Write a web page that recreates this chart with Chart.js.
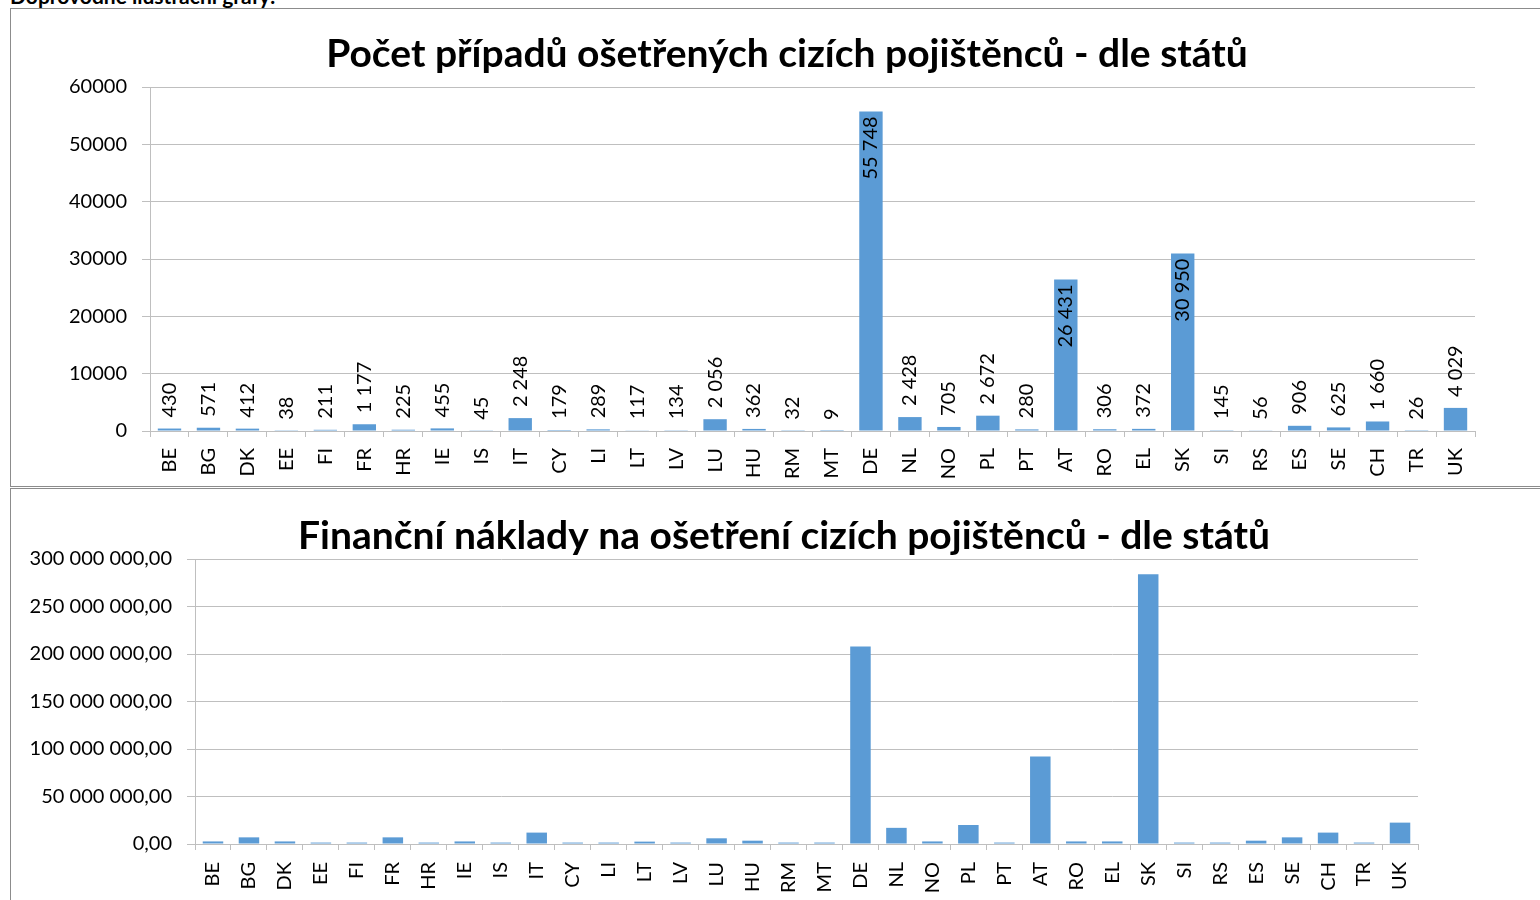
<!DOCTYPE html>
<html>
<head>
<meta charset="utf-8">
<script src="https://cdn.jsdelivr.net/npm/chart.js@4.4.1/dist/chart.umd.min.js"></script>
<style>
body { margin:0; background:#fff; overflow:hidden; width:1540px; height:900px; position:relative; font-family:Lato, "Open Sans", sans-serif; }
#head { position:absolute; left:10px; top:-17px; font-weight:bold; font-size:21px; color:#000; }
.frame { position:absolute; left:10px; width:1540px; border:1px solid #8c8c8c; background:#fff; }
#f1 { top:8px; height:477px; }
#f2 { top:488px; height:420px; }
canvas { display:block; }
</style>
</head>
<body>
<div id="head">Doprovodné ilustrační grafy:</div>
<div class="frame" id="f1"><canvas id="c1" width="1540" height="477"></canvas></div>
<div class="frame" id="f2"><canvas id="c2" width="1540" height="412"></canvas></div>
<script>
var countries = ['BE','BG','DK','EE','FI','FR','HR','IE','IS','IT','CY','LI','LT','LV','LU','HU','RM','MT','DE','NL','NO','PL','PT','AT','RO','EL','SK','SI','RS','ES','SE','CH','TR','UK'];
var cases = [430,571,412,38,211,1177,225,455,45,2248,179,289,117,134,2056,362,32,9,55748,2428,705,2672,280,26431,306,372,30950,145,56,906,625,1660,26,4029];
var insideLabels = ['DE','AT','SK'];
var costs = [2700000,7000000,2700000,1500000,1500000,7000000,1500000,2700000,1500000,12000000,1500000,1500000,2500000,1500000,6000000,3500000,1500000,1500000,208000000,17000000,2700000,20000000,1500000,92000000,2700000,2700000,284000000,1500000,1500000,3500000,7000000,12000000,1500000,22500000];
var title1 = 'Počet případů ošetřených cizích pojištěnců - dle států';
var title2 = 'Finanční náklady na ošetření cizích pojištěnců - dle států';

var barColor = '#5b9bd5';
var gridColor = '#bfbfbf';
var fontFam = 'Lato, "Open Sans", sans-serif';

function spaced(n) {
  return String(n).replace(/\B(?=(\d{3})+(?!\d))/g, ' ');
}
function money(v) {
  var parts = v.toFixed(2).split('.');
  return spaced(parts[0]) + ',' + parts[1];
}

// chart title drawn at a fixed centre (the excel frame is wider than the page)
var chartTitle = {
  id: 'chartTitle',
  afterDraw: function(chart, args, opts) {
    var ctx = chart.ctx;
    ctx.save();
    ctx.font = 'bold 39px ' + fontFam;
    ctx.fillStyle = '#000';
    ctx.textAlign = 'center';
    ctx.textBaseline = 'middle';
    ctx.fillText(opts.text, opts.x, opts.y);
    ctx.restore();
  }
};

// draws the rotated value labels of the first chart
var valueLabels = {
  id: 'valueLabels',
  afterDatasetsDraw: function(chart, args, opts) {
    if (!opts.show) return;
    var ctx = chart.ctx;
    var meta = chart.getDatasetMeta(0);
    ctx.save();
    ctx.font = '20px ' + fontFam;
    ctx.fillStyle = '#000';
    ctx.textBaseline = 'middle';
    meta.data.forEach(function(bar, i) {
      var txt = spaced(chart.data.datasets[0].data[i]);
      ctx.save();
      ctx.translate(bar.x, bar.y);
      ctx.rotate(-Math.PI / 2);
      if (insideLabels.indexOf(chart.data.labels[i]) >= 0) {
        ctx.textAlign = 'right';
        ctx.fillText(txt, -5, 0);
      } else {
        ctx.textAlign = 'left';
        ctx.fillText(txt, 11, 0);
      }
      ctx.restore();
    });
    ctx.restore();
  }
};

function makeChart(id, data, title, titleX, titleY, padTop, yMax, yStep, yFmt, yWidth, padRight, xHeight, xPad, barPct, showLabels) {
  return new Chart(document.getElementById(id), {
    type: 'bar',
    data: {
      labels: countries,
      datasets: [{ data: data, backgroundColor: barColor, borderWidth: 0, barPercentage: barPct, categoryPercentage: 1 }]
    },
    options: {
      responsive: false,
      animation: false,
      layout: { padding: { left: 0, right: padRight, top: padTop, bottom: 0 } },
      scales: {
        x: {
          grid: { display: true, drawOnChartArea: false, drawTicks: true, tickLength: 6, color: gridColor, offset: true },
          border: { color: gridColor },
          ticks: { minRotation: 90, maxRotation: 90, autoSkip: false, color: '#000', font: { family: fontFam, size: 20 }, padding: xPad },
          afterFit: function(s) { s.height = xHeight; }
        },
        y: {
          min: 0, max: yMax,
          grid: { color: gridColor, tickLength: 8, drawTicks: true },
          border: { color: gridColor },
          ticks: { stepSize: yStep, color: '#000', font: { family: fontFam, size: 20 }, padding: 15, callback: yFmt },
          afterFit: function(s) { s.width = yWidth; }
        }
      },
      plugins: {
        legend: { display: false },
        tooltip: { enabled: false },
        title: { display: false },
        chartTitle: { text: title, x: titleX, y: titleY },
        valueLabels: { show: showLabels }
      }
    },
    plugins: [chartTitle, valueLabels]
  });
}

makeChart('c1', cases, title1, 776, 45, 78, 60000, 10000, function(v) { return v; }, 139, 1540 - 1475 + 11, 55, 11, 0.6, true);
makeChart('c2', costs, title2, 773, 47, 70, 300000000, 50000000, function(v) { return money(v); }, 184, 1540 - 1418 + 11, 57, 12, 0.57, false);
</script>
</body>
</html>
